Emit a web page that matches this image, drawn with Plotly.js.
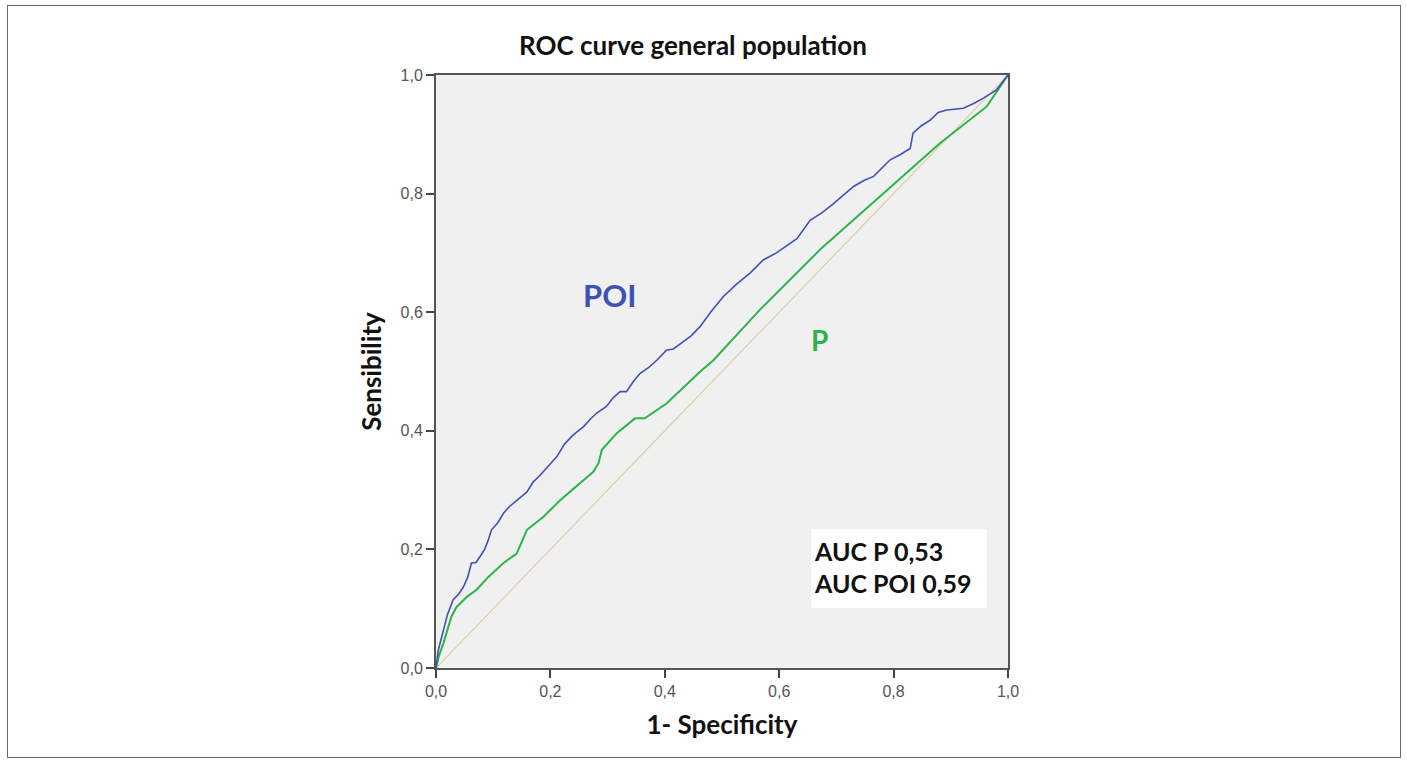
<!DOCTYPE html>
<html>
<head>
<meta charset="utf-8">
<script src="https://cdn.plot.ly/plotly-3.0.1.min.js"></script>
<style>
  html, body { margin: 0; padding: 0; background: #fff; }
  #chart { position: absolute; left: 0; top: 0; width: 1407px; height: 762px; }
  #frame { position: absolute; left: 7px; top: 5px; width: 1392px; height: 751px; border: 1px solid #6a6a6a; pointer-events: none; }
</style>
</head>
<body>
<div id="chart"></div>
<div id="frame"></div>
<script>
// ---- Data ----
const fprPOI = [0, 0.004, 0.012, 0.020, 0.030, 0.040, 0.048, 0.055, 0.062, 0.070, 0.077, 0.085, 0.0915, 0.097, 0.108, 0.118, 0.128, 0.138, 0.148, 0.159, 0.170, 0.182, 0.193, 0.211, 0.225, 0.240, 0.258, 0.270, 0.281, 0.298, 0.310, 0.322, 0.333, 0.345, 0.357, 0.372, 0.386, 0.403, 0.415, 0.430, 0.446, 0.462, 0.480, 0.502, 0.525, 0.549, 0.572, 0.595, 0.619, 0.631, 0.654, 0.675, 0.695, 0.712, 0.730, 0.748, 0.765, 0.794, 0.812, 0.829, 0.834, 0.848, 0.864, 0.878, 0.893, 0.922, 0.940, 0.957, 0.980, 1.0];
const tprPOI = [0, 0.030, 0.060, 0.090, 0.115, 0.125, 0.137, 0.152, 0.177, 0.178, 0.188, 0.200, 0.216, 0.233, 0.245, 0.261, 0.272, 0.280, 0.287, 0.297, 0.314, 0.325, 0.337, 0.356, 0.378, 0.393, 0.407, 0.420, 0.430, 0.441, 0.456, 0.466, 0.466, 0.483, 0.497, 0.507, 0.519, 0.536, 0.538, 0.548, 0.560, 0.576, 0.600, 0.626, 0.647, 0.666, 0.688, 0.700, 0.716, 0.724, 0.755, 0.768, 0.783, 0.797, 0.812, 0.822, 0.829, 0.857, 0.866, 0.876, 0.902, 0.914, 0.924, 0.937, 0.941, 0.944, 0.952, 0.961, 0.975, 1.0];

const fprP = [0, 0.005, 0.013, 0.027, 0.036, 0.054, 0.071, 0.092, 0.118, 0.135, 0.141, 0.159, 0.188, 0.217, 0.228, 0.252, 0.275, 0.284, 0.290, 0.316, 0.348, 0.365, 0.403, 0.462, 0.485, 0.566, 0.674, 0.782, 0.881, 0.963, 0.986, 1.0];
const tprP = [0, 0.020, 0.042, 0.087, 0.103, 0.120, 0.132, 0.154, 0.177, 0.188, 0.193, 0.233, 0.255, 0.283, 0.292, 0.311, 0.331, 0.345, 0.368, 0.396, 0.421, 0.421, 0.446, 0.500, 0.519, 0.604, 0.708, 0.800, 0.885, 0.947, 0.980, 1.0];

const refX = [0, 1];
const refY = [0, 1];

const tickVals = [0, 0.2, 0.4, 0.6, 0.8, 1.0];

const chartTitle = "ROC curve general population";
const xTitle = "1- Specificity";
const yTitle = "Sensibility";
const aucLines = ["AUC P 0,53", "AUC POI 0,59"];

// ---- Styles ----
const blue = "#3E52B4";
const green = "#2EB34A";
const refColor = "#D8D0A0";
const narrow = "Liberation Sans Narrow, Liberation Sans, Arial, sans-serif";
const boldFont = "Lato, Open Sans, sans-serif";

const traces = [
  { x: refX, y: refY, mode: "lines", line: { color: refColor, width: 1.2 }, hoverinfo: "skip", showlegend: false },
  { x: fprP, y: tprP, mode: "lines", name: "P", line: { color: green, width: 2 }, showlegend: false },
  { x: fprPOI, y: tprPOI, mode: "lines", name: "POI", line: { color: blue, width: 1.6 }, showlegend: false }
];

const axisCommon = {
  range: [0, 1],
  tickvals: tickVals,
  tickformat: ".1f",
  ticks: "outside",
  ticklen: 8,
  tickwidth: 2,
  tickcolor: "#444",
  showline: true,
  linecolor: "#555",
  linewidth: 2,
  mirror: true,
  showgrid: false,
  zeroline: false,
  tickfont: { family: narrow, size: 16, color: "#555" }
};

const layout = {
  width: 1407,
  height: 762,
  margin: { l: 436, r: 399, t: 75, b: 94 },
  paper_bgcolor: "#ffffff",
  plot_bgcolor: "#f0f0f0",
  separators: ",.",
  title: {
    text: "<b>" + chartTitle + "</b>",
    font: { family: boldFont, size: 26, color: "#111" },
    x: 0.4925, xanchor: "center",
    y: 0.94, yanchor: "middle"
  },
  xaxis: Object.assign({}, axisCommon, {
    title: { text: "<b>" + xTitle + "</b>", font: { family: boldFont, size: 26, color: "#111" }, standoff: 17 }
  }),
  yaxis: Object.assign({}, axisCommon, {
    title: { text: "<b>" + yTitle + "</b>", font: { family: boldFont, size: 26, color: "#111" }, standoff: 11 }
  }),
  shapes: [
    { type: "rect", xref: "x", yref: "y", x0: 0.656, x1: 0.963, y0: 0.101, y1: 0.234,
      fillcolor: "#ffffff", line: { width: 0 }, layer: "below" }
  ],
  annotations: [
    { x: 0.304, y: 0.629, xref: "x", yref: "y", text: "<b>POI</b>", showarrow: false,
      font: { family: boldFont, size: 31, color: blue } },
    { x: 0.671, y: 0.553, xref: "x", yref: "y", text: "<b>P</b>", showarrow: false,
      font: { family: boldFont, size: 28, color: green } },
    { x: 0.658, y: 0.198, xref: "x", yref: "y", xanchor: "left", text: "<b>" + aucLines[0] + "</b>", showarrow: false,
      font: { family: boldFont, size: 25, color: "#111" } },
    { x: 0.658, y: 0.143, xref: "x", yref: "y", xanchor: "left", text: "<b>" + aucLines[1] + "</b>", showarrow: false,
      font: { family: boldFont, size: 25, color: "#111" } }
  ]
};

Plotly.newPlot("chart", traces, layout, { displayModeBar: false, staticPlot: true });
</script>
</body>
</html>
